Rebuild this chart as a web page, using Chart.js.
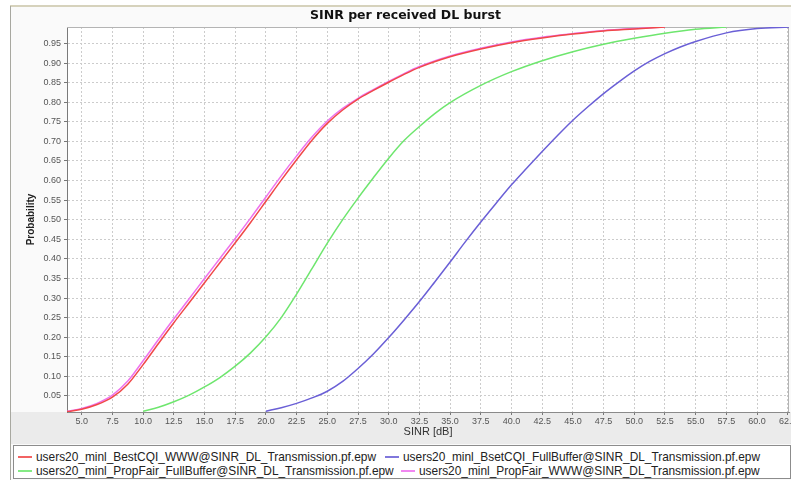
<!DOCTYPE html>
<html>
<head>
<meta charset="utf-8">
<script src="https://cdn.jsdelivr.net/npm/chart.js@4/dist/chart.umd.min.js"></script>
<style>
  html, body { margin: 0; padding: 0; background: #fff; }
  #wrap { position: relative; width: 791px; height: 480px; overflow: hidden; }
  #c { position: absolute; left: 0; top: 0; }
  #legend {
    position: absolute; left: 13px; top: 445px; width: 776px; height: 32px;
    border: 1px solid #8c8c8c; background: #fff;
    font: 11.9px "Liberation Sans", Arial, sans-serif; color: #222;
  }
  .item { position: absolute; white-space: nowrap; line-height: 14px; }
  .swatch { display: inline-block; width: 14px; height: 0; border-top: 2px solid; vertical-align: middle; margin-right: 4px; opacity: 0.85; }
</style>
</head>
<body>
<div id="wrap">
  <canvas id="c" width="791" height="480"></canvas>
  <div id="legend"></div>
</div>
<script>
// SINR CDF per received DL burst, four scheduler / traffic runs
const chartTitle = 'SINR per received DL burst';
const xTitle = 'SINR [dB]';
const yTitle = 'Probability';

const seriesNames = [
  'users20_minl_BestCQI_WWW@SINR_DL_Transmission.pf.epw',
  'users20_minl_BsetCQI_FullBuffer@SINR_DL_Transmission.pf.epw',
  'users20_minl_PropFair_FullBuffer@SINR_DL_Transmission.pf.epw',
  'users20_minl_PropFair_WWW@SINR_DL_Transmission.pf.epw'
];
const seriesColors = ['#f04848', '#6a5fd6', '#6ee66e', '#ee72ee'];

// SINR samples (dB) for the WWW runs
const sinrWww = [3.8, 5.0, 6.25, 7.5, 8.75, 10.0, 11.25, 12.5, 13.75, 15.0, 16.25, 17.5, 18.75, 20.0,
  21.25, 22.5, 23.75, 25.0, 26.25, 27.5, 28.75, 30.0, 31.25, 32.5, 35.0, 37.5, 40.0, 42.5, 45.0, 47.5, 50.0, 52.5];
const probBestCqiWww = [0.010, 0.016, 0.028, 0.047, 0.080, 0.130, 0.184, 0.237, 0.288, 0.339, 0.390, 0.441, 0.493, 0.547,
  0.601, 0.653, 0.703, 0.746, 0.780, 0.808, 0.830, 0.851, 0.871, 0.889, 0.916, 0.936, 0.952, 0.964, 0.974, 0.982, 0.987, 0.992];
const probPropFairWww = [0.011, 0.018, 0.031, 0.052, 0.088, 0.140, 0.194, 0.247, 0.298, 0.350, 0.401, 0.452, 0.504, 0.558,
  0.612, 0.663, 0.711, 0.752, 0.784, 0.810, 0.832, 0.853, 0.873, 0.891, 0.918, 0.938, 0.954, 0.966, 0.975, 0.983, 0.988, 0.992];

// PropFair full buffer
const sinrPropFairFull = [10.0, 11.25, 12.5, 13.75, 15.0, 16.25, 17.5, 18.75, 20.0, 21.25, 22.5, 23.75, 25.0, 26.25,
  27.5, 28.75, 30.0, 31.25, 32.5, 33.75, 35.0, 37.5, 40.0, 42.5, 45.0, 47.5, 50.0, 52.5, 55.0, 57.5];
const probPropFairFull = [0.011, 0.021, 0.035, 0.052, 0.073, 0.097, 0.126, 0.160, 0.201, 0.250, 0.310, 0.375, 0.440, 0.500,
  0.555, 0.607, 0.657, 0.702, 0.738, 0.771, 0.799, 0.843, 0.878, 0.906, 0.929, 0.948, 0.963, 0.976, 0.986, 0.992];

// BestCQI full buffer
const sinrBestCqiFull = [20.0, 21.25, 22.5, 23.75, 25.0, 26.25, 27.5, 28.75, 30.0, 31.25, 32.5, 33.75, 35.0, 36.25,
  37.5, 38.75, 40.0, 41.25, 42.5, 43.75, 45.0, 46.25, 47.5, 48.75, 50.0, 51.25, 52.5, 53.75, 55.0, 57.5, 60.0, 62.6];
const probBestCqiFull = [0.011, 0.020, 0.031, 0.045, 0.062, 0.087, 0.120, 0.157, 0.199, 0.244, 0.291, 0.341, 0.392, 0.444,
  0.494, 0.542, 0.589, 0.632, 0.674, 0.715, 0.754, 0.789, 0.822, 0.852, 0.880, 0.904, 0.924, 0.941, 0.955, 0.977, 0.988, 0.992];

const xMin = 3.8, xMax = 62.6, xStep = 2.5;
const yMin = 0.009, yMax = 0.992, yStep = 0.05;

const toPoints = (xs, ys) => xs.map((x, i) => ({ x: x, y: ys[i] }));
const seriesPoints = [
  toPoints(sinrWww, probBestCqiWww),
  toPoints(sinrBestCqiFull, probBestCqiFull),
  toPoints(sinrPropFairFull, probPropFairFull),
  toPoints(sinrWww, probPropFairWww)
];

// panel, bands and plot frame behind the curves
const framePlugin = {
  id: 'frame',
  beforeDraw(chart) {
    const { ctx, chartArea: a, width, height } = chart;
    ctx.save();
    ctx.fillStyle = '#ffffff';
    ctx.fillRect(0, 0, width, height);
    ctx.fillStyle = '#fafafa';
    ctx.fillRect(10, 6, width - 10, height - 6);
    ctx.fillStyle = '#ebebeb';
    ctx.fillRect(11, a.bottom, width - 11, 444 - a.bottom);
    ctx.fillStyle = '#ffffff';
    ctx.fillRect(a.left, a.top, a.right - a.left, a.bottom - a.top);
    ctx.strokeStyle = '#d6d2bc';
    ctx.lineWidth = 2;
    ctx.beginPath(); ctx.moveTo(10, 6); ctx.lineTo(width, 6); ctx.stroke();
    ctx.strokeStyle = '#a8a8a0';
    ctx.lineWidth = 1;
    ctx.beginPath(); ctx.moveTo(10.5, 6); ctx.lineTo(10.5, height); ctx.stroke();
    ctx.restore();
  },
  beforeDatasetsDraw(chart) {
    const { ctx, chartArea: a } = chart;
    ctx.save();
    ctx.strokeStyle = '#b4b4b4';
    ctx.lineWidth = 1;
    ctx.beginPath();
    ctx.moveTo(a.left, a.top + 0.5); ctx.lineTo(a.right, a.top + 0.5);
    ctx.moveTo(a.right - 0.5, a.top); ctx.lineTo(a.right - 0.5, a.bottom);
    ctx.stroke();
    ctx.restore();
  }
};

Chart.defaults.font.family = '"Liberation Sans", Arial, sans-serif';

new Chart(document.getElementById('c').getContext('2d'), {
  type: 'line',
  data: {
    datasets: seriesNames.map((name, i) => ({
      label: name,
      data: seriesPoints[i],
      borderColor: seriesColors[i],
      backgroundColor: seriesColors[i],
      borderWidth: 1.5,
      pointRadius: 0,
      fill: false,
      cubicInterpolationMode: 'monotone'
    }))
  },
  options: {
    responsive: false,
    animation: false,
    devicePixelRatio: 1,
    layout: { padding: { left: 22, right: 2, top: 0, bottom: 37 } },
    plugins: {
      legend: { display: false },
      tooltip: { enabled: false },
      title: {
        display: true,
        text: chartTitle,
        color: '#111',
        font: { family: '"DejaVu Sans", sans-serif', size: 12.5, weight: 'bold' },
        padding: { top: 8, bottom: 4 }
      }
    },
    scales: {
      x: {
        type: 'linear',
        position: 'bottom',
        min: xMin,
        max: xMax,
        ticks: {
          stepSize: xStep, includeBounds: false, autoSkip: false, maxRotation: 0,
          padding: 1, color: '#555', font: { size: 9 },
          callback: v => Number(v).toFixed(1)
        },
        grid: { color: '#cccccc', lineWidth: 1, tickColor: '#777', tickLength: 3 },
        border: { display: true, color: '#8a8a8a', width: 1, dash: [2, 2] },
        title: { display: true, text: xTitle, color: '#333', font: { size: 11 }, padding: { top: 0, bottom: 4 } },
        afterFit(s) { s.height = 31; s.paddingLeft = 0; s.paddingRight = 0; }
      },
      y: {
        type: 'linear',
        position: 'left',
        min: yMin,
        max: yMax,
        ticks: {
          stepSize: yStep, includeBounds: false,
          padding: 3, color: '#555', font: { size: 9 },
          callback: v => Number(v).toFixed(2)
        },
        grid: { color: '#cccccc', lineWidth: 1, tickColor: '#777', tickLength: 3 },
        border: { display: true, color: '#7a7a7a', width: 1, dash: [2, 2] },
        title: { display: true, text: yTitle, color: '#222', font: { size: 10, weight: 'bold' }, padding: { top: 3, bottom: 0 } },
        afterFit(s) { s.width = 45; s.paddingTop = 0; s.paddingBottom = 0; }
      }
    }
  },
  plugins: [framePlugin]
});

// two-row legend under the plot
const legendPos = [[4, 3.5], [371, 3.5], [4, 17.5], [387, 17.5]];
const legendEl = document.getElementById('legend');
seriesNames.forEach((name, i) => {
  const d = document.createElement('div');
  d.className = 'item';
  d.style.left = legendPos[i][0] + 'px';
  d.style.top = legendPos[i][1] + 'px';
  const sw = document.createElement('span');
  sw.className = 'swatch';
  sw.style.borderTopColor = seriesColors[i];
  d.appendChild(sw);
  d.appendChild(document.createTextNode(name));
  legendEl.appendChild(d);
});
</script>
</body>
</html>
